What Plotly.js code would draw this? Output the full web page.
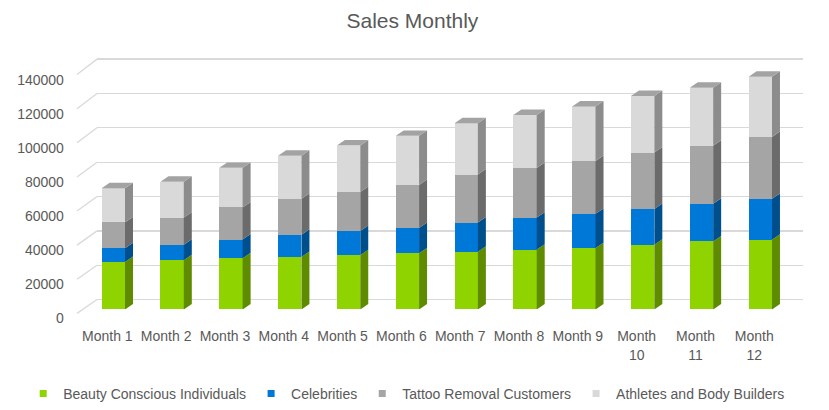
<!DOCTYPE html>
<html>
<head>
<meta charset="utf-8">
<script src="https://cdn.plot.ly/plotly-3.0.1.min.js"></script>
<style>html,body{margin:0;padding:0;background:#fff;}#chart{width:829px;height:410px;}</style>
</head>
<body>
<div id="chart"></div>
<script>
// ---- data ----
const months = ['Month 1','Month 2','Month 3','Month 4','Month 5','Month 6','Month 7','Month 8','Month 9','Month<br>10','Month<br>11','Month<br>12'];
const beautyConscious = [27800,28900,30000,30800,31800,32900,33900,35100,36000,38000,39900,40900];
const celebrities = [8100,9100,11000,13100,14300,14900,17100,18800,20100,21000,22100,24000];
const tattooRemoval = [15200,15900,18900,21000,22900,25200,28200,29100,31000,33100,34100,36300];
const athletesBody = [20100,21100,23200,25300,27200,28900,30100,31200,32100,33200,34100,35400];
const seriesNames = ['Beauty Conscious Individuals','Celebrities','Tattoo Removal Customers','Athletes and Body Builders'];
const yTicks = [0,20000,40000,60000,80000,100000,120000,140000];

// ---- style / geometry ----
const W = 829, H = 410;
const FONT = 'Liberation Sans, Arial, sans-serif';
const TXT = '#595959';
const frontCol = ['#8fd400','#0078d7','#a5a5a5','#d9d9d9'];
const sideCol  = ['#5e8b00','#004f8d','#6b6b6b','#8c8c8c'];
const topCol = '#a3a3a3';
const px = v => v / W, py = v => 1 - v / H;
const YMAX = 140000;
const bargap = 0.603;
const dxCat = 0.136;     // depth offset in category units
const dyVal = 3200;      // depth rise in value units

const series = [beautyConscious, celebrities, tattooRemoval, athletesBody];
const idx = months.map((m, i) => i);

const traces = [];
// empty trace for back-wall grid subplot
traces.push({x: [], y: [], type: 'scatter', xaxis: 'x', yaxis: 'y', showlegend: false, hoverinfo: 'skip'});

// front faces
series.forEach((s, k) => {
  traces.push({
    type: 'bar', x: idx, y: s, name: seriesNames[k], xaxis: 'x2', yaxis: 'y2',
    marker: {color: frontCol[k], line: {width: 0}}, showlegend: false
  });
});

// side faces and top face, computed from data
const halfW = (1 - bargap) / 2;
const bases = idx.map(() => 0);
series.forEach((s, k) => {
  const xs = [], ys = [];
  idx.forEach(i => {
    const b = bases[i], t = b + s[i];
    const xr = i + halfW;
    xs.push(xr, xr + dxCat, xr + dxCat, xr, null);
    ys.push(b, b + dyVal, t + dyVal, t, null);
    bases[i] = t;
  });
  traces.push({
    type: 'scatter', mode: 'lines', x: xs, y: ys, xaxis: 'x2', yaxis: 'y2',
    fill: 'toself', fillcolor: sideCol[k], line: {width: 0, color: sideCol[k]},
    showlegend: false, hoverinfo: 'skip'
  });
});
{
  const xs = [], ys = [];
  idx.forEach(i => {
    const t = bases[i];
    xs.push(i - halfW, i + halfW, i + halfW + dxCat, i - halfW + dxCat, null);
    ys.push(t, t, t + dyVal, t + dyVal, null);
  });
  traces.push({
    type: 'scatter', mode: 'lines', x: xs, y: ys, xaxis: 'x2', yaxis: 'y2',
    fill: 'toself', fillcolor: topCol, line: {width: 0, color: topCol},
    showlegend: false, hoverinfo: 'skip'
  });
}
// legend entries
series.forEach((s, k) => {
  traces.push({
    type: 'scatter', mode: 'markers', x: [null], y: [null], xaxis: 'x2', yaxis: 'y2',
    name: seriesNames[k], marker: {symbol: 'square', size: 7, color: frontCol[k]},
    hoverinfo: 'skip'
  });
});

// back wall grid axis (0 at y=304, max at y=60), padded range so end gridlines show
const backBottom = 304, backTop = 60, pad = 600;
const backScale = (backBottom - backTop) / YMAX;
// front label positions (0 at 318, max at 75.7)
const frontBottom = 318, frontTop = 75.7;
const frontScale = (frontBottom - frontTop) / YMAX;
const shapes = yTicks.map(v => ({
  type: 'line', xref: 'paper', yref: 'paper', layer: 'below',
  x0: px(77), y0: py(frontBottom - v * frontScale),
  x1: px(97), y1: py(backBottom - v * backScale),
  line: {color: '#d9d9d9', width: 1.3}
}));

const layout = {
  width: W, height: H,
  margin: {l: 0, r: 0, t: 0, b: 0},
  paper_bgcolor: '#ffffff', plot_bgcolor: 'rgba(0,0,0,0)',
  font: {family: FONT, color: TXT, size: 14},
  title: {text: 'Sales Monthly', font: {family: FONT, size: 21, color: TXT},
          x: 0.4975, xanchor: 'center', xref: 'paper', y: py(21), yanchor: 'middle', yref: 'container'},
  barmode: 'stack', bargap: bargap,
  showlegend: true,
  legend: {orientation: 'h', x: 0.49, xanchor: 'center', y: py(400), yanchor: 'middle',
           font: {family: FONT, size: 14, color: TXT}, bgcolor: 'rgba(0,0,0,0)', traceorder: 'normal'},
  xaxis: {domain: [px(97), px(803)], range: [0, 1], visible: false, fixedrange: true, anchor: 'y'},
  yaxis: {domain: [py(backBottom + pad * backScale), py(backTop - pad * backScale)],
          range: [-pad, YMAX + pad], anchor: 'x', tickvals: yTicks, showticklabels: false, ticks: '',
          showgrid: true, gridcolor: '#d9d9d9', gridwidth: 1.3,
          zeroline: true, zerolinecolor: '#d9d9d9', zerolinewidth: 1.3, showline: false, fixedrange: true},
  xaxis2: {domain: [px(83.9), px(789.7)], range: [-0.5, 11.5], anchor: 'y2',
           tickvals: idx, ticktext: months, ticks: '', showgrid: false, zeroline: false, showline: false,
           tickfont: {family: FONT, size: 14, color: TXT}, ticklabelshift: -6, ticklabelstandoff: 17, fixedrange: true},
  yaxis2: {domain: [py(314), py(72)], range: [0, YMAX], anchor: 'x2',
           tickvals: yTicks, tickformat: 'd', ticks: '', showgrid: false, zeroline: false, showline: false,
           tickfont: {family: FONT, size: 14, color: TXT}, ticklabelshift: 9, ticklabelstandoff: 19, fixedrange: true},
  shapes: shapes
};

Plotly.newPlot('chart', traces, layout, {displayModeBar: false, staticPlot: true});
</script>
</body>
</html>
